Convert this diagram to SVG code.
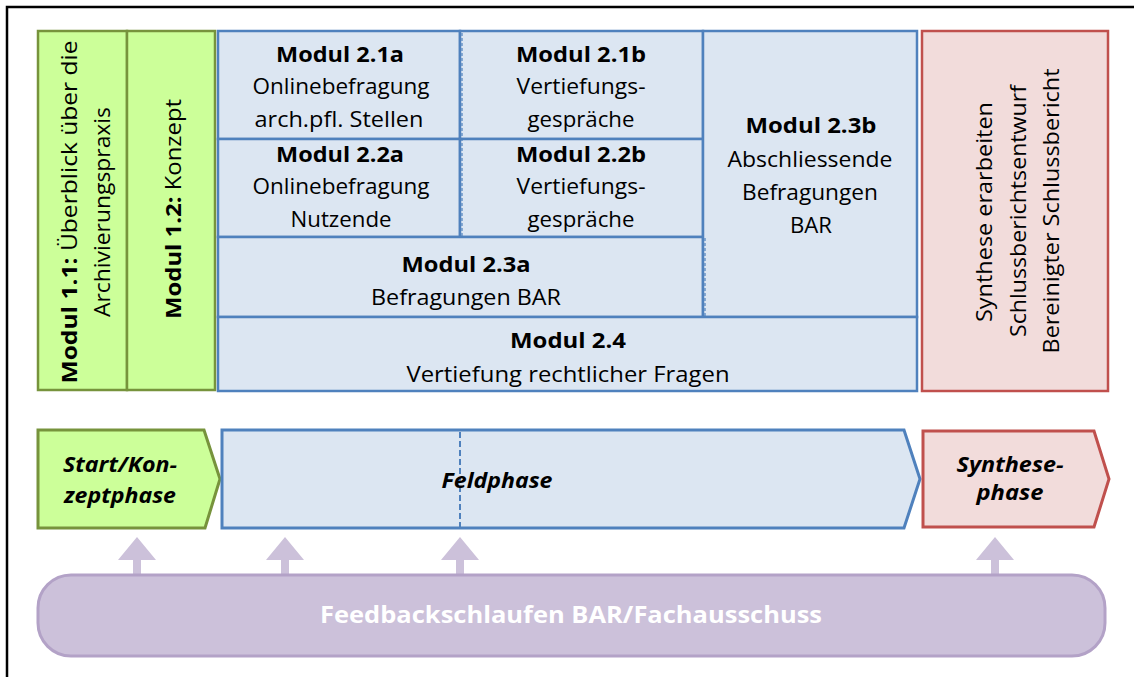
<svg xmlns="http://www.w3.org/2000/svg" width="1134" height="677" viewBox="0 0 1134 677">
<style>
.t{font-family:"Open Sans","Liberation Sans",sans-serif;font-size:21px;fill:#000;text-anchor:middle}
.b{font-weight:bold}
.grn{fill:#CCFF99;stroke:#77933C;stroke-width:2.5}
.blu{fill:#DCE6F2;stroke:#4F81BD;stroke-width:2.5}
.red{fill:#F2DCDB;stroke:#C0504D;stroke-width:2.5}
.ph{font-family:"Open Sans","Liberation Sans",sans-serif;font-size:22px;font-weight:bold;font-style:italic;text-anchor:middle;fill:#000}
.dash{stroke:#4F81BD;stroke-width:1.2;stroke-dasharray:3 2;fill:none}
.arr{fill:#CCC1DA}
</style>
<rect width="1134" height="677" fill="#fff"/>
<path d="M7 677 V7 H1134" fill="none" stroke="#000" stroke-width="2.5"/>

<g id="m11">
<rect class="grn" x="38" y="31" width="89" height="359"/>
<text class="t" transform="translate(77,212) rotate(-90)" textLength="343" lengthAdjust="spacingAndGlyphs"><tspan class="b">Modul 1.1:</tspan> Überblick über die</text>
<text class="t" transform="translate(110,212) rotate(-90)" textLength="210" lengthAdjust="spacingAndGlyphs">Archivierungspraxis</text>
</g>
<g id="m12">
<rect class="grn" x="127" y="31" width="88" height="359"/>
<text class="t" transform="translate(181,209) rotate(-90)" textLength="220" lengthAdjust="spacingAndGlyphs"><tspan class="b">Modul 1.2:</tspan> Konzept</text>
</g>

<g id="m21a">
<rect class="blu" x="218" y="31" width="242" height="108"/>
<text class="t b" x="340" y="62" textLength="128" lengthAdjust="spacingAndGlyphs">Modul 2.1a</text>
<text class="t" x="341" y="94" textLength="177" lengthAdjust="spacingAndGlyphs">Onlinebefragung</text>
<text class="t" x="339" y="127" textLength="169" lengthAdjust="spacingAndGlyphs">arch.pfl. Stellen</text>
</g>
<g id="m21b">
<rect class="blu" x="460" y="31" width="243" height="108"/>
<text class="t b" x="581" y="62" textLength="130" lengthAdjust="spacingAndGlyphs">Modul 2.1b</text>
<text class="t" x="581" y="94" textLength="129" lengthAdjust="spacingAndGlyphs">Vertiefungs-</text>
<text class="t" x="581" y="127" textLength="107" lengthAdjust="spacingAndGlyphs">gespräche</text>
</g>
<g id="m22a">
<rect class="blu" x="218" y="139" width="242" height="98"/>
<text class="t b" x="340" y="162" textLength="128" lengthAdjust="spacingAndGlyphs">Modul 2.2a</text>
<text class="t" x="341" y="194" textLength="177" lengthAdjust="spacingAndGlyphs">Onlinebefragung</text>
<text class="t" x="341" y="227" textLength="101" lengthAdjust="spacingAndGlyphs">Nutzende</text>
</g>
<g id="m22b">
<rect class="blu" x="460" y="139" width="243" height="98"/>
<text class="t b" x="581" y="162" textLength="130" lengthAdjust="spacingAndGlyphs">Modul 2.2b</text>
<text class="t" x="581" y="194" textLength="129" lengthAdjust="spacingAndGlyphs">Vertiefungs-</text>
<text class="t" x="581" y="227" textLength="107" lengthAdjust="spacingAndGlyphs">gespräche</text>
</g>
<g id="m23a">
<rect class="blu" x="218" y="237" width="485" height="80"/>
<text class="t b" x="466" y="272" textLength="129" lengthAdjust="spacingAndGlyphs">Modul 2.3a</text>
<text class="t" x="466" y="305" textLength="190" lengthAdjust="spacingAndGlyphs">Befragungen BAR</text>
</g>
<g id="m23b">
<rect class="blu" x="703" y="31" width="214" height="286"/>
<text class="t b" x="811" y="133" textLength="131" lengthAdjust="spacingAndGlyphs">Modul 2.3b</text>
<text class="t" x="810" y="167" textLength="165" lengthAdjust="spacingAndGlyphs">Abschliessende</text>
<text class="t" x="810" y="200" textLength="136" lengthAdjust="spacingAndGlyphs">Befragungen</text>
<text class="t" x="811" y="233" textLength="42" lengthAdjust="spacingAndGlyphs">BAR</text>
</g>
<g id="m24">
<rect class="blu" x="218" y="317" width="699" height="74"/>
<text class="t b" x="568" y="348" textLength="116" lengthAdjust="spacingAndGlyphs">Modul 2.4</text>
<text class="t" x="568" y="382" textLength="323" lengthAdjust="spacingAndGlyphs">Vertiefung rechtlicher Fragen</text>
</g>
<g id="dividers">
<line class="dash" x1="462" y1="33" x2="462" y2="236"/>
<line class="dash" x1="705" y1="238" x2="705" y2="316"/>
</g>
<g id="synth">
<rect class="red" x="922" y="31" width="186" height="360"/>
<text class="t" transform="translate(992,212) rotate(-90)" textLength="220" lengthAdjust="spacingAndGlyphs">Synthese erarbeiten</text>
<text class="t" transform="translate(1026,211) rotate(-90)" textLength="252" lengthAdjust="spacingAndGlyphs">Schlussberichtsentwurf</text>
<text class="t" transform="translate(1059,211) rotate(-90)" textLength="285" lengthAdjust="spacingAndGlyphs">Bereinigter Schlussbericht</text>
</g>

<g id="phase-start">
<polygon points="38,430 204,430 220,479 205,528 38,528" fill="#CCFF99" stroke="#77933C" stroke-width="3"/>
<text class="ph" x="120" y="472" textLength="114" lengthAdjust="spacingAndGlyphs">Start/Kon-</text>
<text class="ph" x="120" y="503" textLength="112" lengthAdjust="spacingAndGlyphs">zeptphase</text>
</g>
<g id="phase-feld">
<polygon points="222,430 904,430 920,479 904,528 222,528" fill="#DCE6F2" stroke="#4F81BD" stroke-width="3"/>
<line x1="460" y1="432" x2="460" y2="527" stroke="#4F81BD" stroke-width="2" stroke-dasharray="6 3"/>
<text class="ph" x="497" y="488" textLength="111" lengthAdjust="spacingAndGlyphs">Feldphase</text>
</g>
<g id="phase-synth">
<polygon points="923,431 1094,431 1109,479 1094,527 923,527" fill="#F2DCDB" stroke="#C0504D" stroke-width="3"/>
<text class="ph" x="1010" y="472" textLength="107" lengthAdjust="spacingAndGlyphs">Synthese-</text>
<text class="ph" x="1010" y="500" textLength="67" lengthAdjust="spacingAndGlyphs">phase</text>
</g>

<g id="connectors">
<polygon class="arr" points="137,537 156,560 141,560 141,576 133,576 133,560 118,560"/>
<polygon class="arr" points="285,537 304,560 289,560 289,576 281,576 281,560 266,560"/>
<polygon class="arr" points="460,537 479,560 464,560 464,576 456,576 456,560 441,560"/>
<polygon class="arr" points="995,537 1014,560 999,560 999,576 991,576 991,560 976,560"/>
</g>
<g id="feedback">
<rect x="38" y="575" width="1067" height="81" rx="33" ry="33" fill="#CCC1DA" stroke="#B3A2C7" stroke-width="3"/>
<text x="571" y="623" font-family="'Open Sans','Liberation Sans',sans-serif" font-size="23" font-weight="bold" fill="#fff" text-anchor="middle" textLength="502" lengthAdjust="spacingAndGlyphs">Feedbackschlaufen BAR/Fachausschuss</text>
</g>
</svg>
